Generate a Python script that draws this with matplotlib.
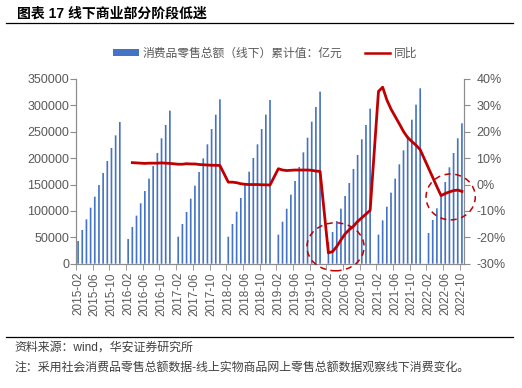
import matplotlib
matplotlib.use("Agg")
import matplotlib.pyplot as plt
import numpy as np
import pandas as pd
from matplotlib.lines import Line2D
from matplotlib.patches import Ellipse, Patch
from matplotlib.ticker import FuncFormatter, FixedLocator

plt.rcParams["font.family"] = ["Liberation Sans", "Noto Sans CJK SC"]

# 累计值（亿元），每年 2 月至 12 月（1 月无数据）
sales_2015 = [43000, 63800, 84000, 106100, 127000, 149100, 171900, 194600, 219200, 243200, 268500]
sales_2016 = [46800, 69500, 91000, 114400, 137700, 161100, 185100, 209800, 237600, 262800, 290000]
sales_2017 = [51200, 75200, 97900, 123200, 147800, 173700, 199600, 226200, 255200, 282400, 311500]
sales_2018 = [51200, 75200, 98600, 124500, 149100, 174400, 200300, 226200, 255200, 282400, 310200]
sales_2019 = [55000, 79600, 104200, 130800, 156700, 183200, 211000, 238800, 269100, 297000, 326000]
sales_2020 = [40900, 60000, 80900, 104200, 128300, 152900, 179400, 206000, 235700, 262800, 293800]
sales_2021 = [55000, 82100, 108000, 134600, 161100, 188300, 214800, 242600, 272900, 301400, 332300]
sales_2022 = [58100, 82800, 104900, 128300, 154800, 182600, 209800, 237600, 266000]

# 同比（%），2016-03 起
yoy_2016 = [8.3, 8.2, 8.1, 8.0, 8.1, 8.1, 8.1, 8.2, 8.1, 8.0]
yoy_2017 = [7.7, 7.7, 7.9, 7.8, 7.8, 7.6, 7.5, 7.4, 7.3, 7.3, 7.2]
yoy_2018 = [0.9, 0.9, 0.7, 0.3, 0.1, 0.0, 0.0, 0.0, -0.1, -0.1, -0.2]
yoy_2019 = [6.0, 5.5, 5.3, 5.4, 5.5, 5.5, 5.5, 5.5, 5.4, 5.1, 5.0]
yoy_2020 = [-25.9, -25.4, -23.5, -21.0, -18.7, -17.1, -15.8, -14.0, -12.6, -11.2, -9.8]
yoy_2021 = [35.3, 36.9, 32.1, 28.6, 25.8, 23.0, 20.1, 17.8, 16.3, 14.9, 13.2]
yoy_2022 = [6.2, 2.7, -0.8, -4.2, -3.4, -2.8, -2.3, -2.1, -2.6]

months = pd.period_range("2015-02", "2022-10", freq="M")
labels = [p.strftime("%Y-%m") for p in months]

sales = pd.Series(np.nan, index=labels)
yoy = pd.Series(np.nan, index=labels)
for year, vals in zip(range(2015, 2023), [sales_2015, sales_2016, sales_2017, sales_2018,
                                          sales_2019, sales_2020, sales_2021, sales_2022]):
    for m, v in enumerate(vals, start=2):
        sales[f"{year}-{m:02d}"] = v
yoy_start = {2016: 3, 2017: 2, 2018: 2, 2019: 2, 2020: 2, 2021: 2, 2022: 2}
for year, vals in zip(range(2016, 2023), [yoy_2016, yoy_2017, yoy_2018, yoy_2019,
                                          yoy_2020, yoy_2021, yoy_2022]):
    for m, v in enumerate(vals, start=yoy_start[year]):
        yoy[f"{year}-{m:02d}"] = v

x = np.arange(len(labels))
line_mask = yoy.notna().to_numpy()

BLUE = "#4472C4"
RED = "#C00000"
GREY = "#595959"
SPINE = "#8c8c8c"

fig = plt.figure(figsize=(5.22, 3.88), dpi=100)
ax = fig.add_axes([0.1456, 0.3204, 0.7433, 0.476])
ax2 = ax.twinx()

bars = ax.bar(x, sales.to_numpy(), width=0.4, color=BLUE, zorder=2)
for b in bars:
    b.set_snap(False)
ax2.plot(x[line_mask], yoy.to_numpy()[line_mask], color=RED, lw=2.0, zorder=3,
         solid_joinstyle="round")

ax.set_xlim(-0.5, len(labels) - 0.5)
ax.set_ylim(0, 350000)
ax.set_yticks(np.arange(0, 350001, 50000))
ax2.set_ylim(-30, 40)
ax2.set_yticks(np.arange(-30, 41, 10))
ax2.yaxis.set_major_formatter(FuncFormatter(lambda v, _: f"{v:.0f}%"))

ax.set_xticks(x[::4])
ax.set_xticklabels(labels[::4], rotation=90)
ax.xaxis.set_minor_locator(FixedLocator(np.arange(-0.5, len(labels), 4)))
ax.tick_params(axis="x", which="major", length=0, pad=6, labelsize=8.5, labelcolor=GREY)
ax.tick_params(axis="x", which="minor", length=4, color=SPINE, direction="out")
ax.tick_params(axis="y", length=4, color=SPINE, pad=1, labelsize=9, labelcolor=GREY)
ax2.tick_params(axis="y", length=4, color=SPINE, pad=5, labelsize=9, labelcolor=GREY)

for a in (ax, ax2):
    a.spines["top"].set_visible(False)
    for s in ("left", "right", "bottom"):
        a.spines[s].set_color(SPINE)
        a.spines[s].set_linewidth(0.8)

# 红色虚线圈
for cx, cy, w, h in [(61.7, -23.6, 13.7, 18.2), (89.3, -4.7, 11.8, 17.4)]:
    ax2.add_patch(Ellipse((cx, cy), w, h, fill=False, edgecolor=RED, lw=1.1,
                          linestyle=(0, (4, 3)), clip_on=False, zorder=4))

handles = [Patch(facecolor=BLUE, edgecolor="none"),
           Line2D([], [], color=RED, lw=1.8)]
leg = fig.legend(handles, ["消费品零售总额（线下）累计值：亿元", "同比"],
                 loc="center", bbox_to_anchor=(0.508, 0.861), ncol=2, frameon=False,
                 fontsize=8.5, handlelength=2.2, handleheight=0.55, handletextpad=0.3,
                 columnspacing=1.9)
for t in leg.get_texts():
    t.set_color(GREY)

fig.text(0.033, 0.9657, "图表 17 线下商业部分阶段低迷", fontsize=10, fontweight="bold",
         va="center", ha="left", color="black")
fig.add_artist(Line2D([0.012, 0.982], [0.940, 0.940], transform=fig.transFigure,
                      color="black", lw=0.9))
fig.add_artist(Line2D([0.012, 0.982], [0.1322, 0.1322], transform=fig.transFigure,
                      color="black", lw=0.9))
fig.text(0.027, 0.1039, "资料来源：wind，华安证券研究所", fontsize=8.6, va="center",
         ha="left", color="#404040")
fig.text(0.027, 0.0533, "注：采用社会消费品零售总额数据-线上实物商品网上零售总额数据观察线下消费变化。",
         fontsize=8.6, va="center", ha="left", color="#404040")

fig.savefig("out.png", dpi=100)
plt.close(fig)
print("Wrote out.png")
